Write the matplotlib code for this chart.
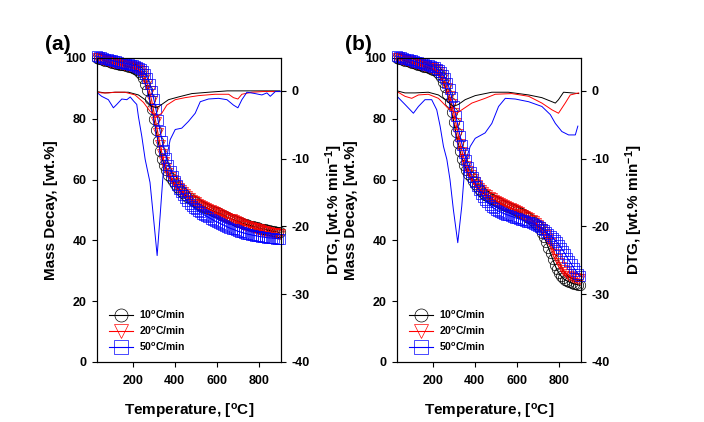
import numpy as np
import matplotlib.pyplot as plt

plt.rcParams["font.family"] = ["Liberation Sans", "DejaVu Sans"]
plt.rcParams["font.weight"] = "bold"
plt.rcParams["axes.labelweight"] = "bold"
plt.rcParams["axes.unicode_minus"] = False
plt.rcParams["mathtext.fontset"] = "custom"
plt.rcParams["mathtext.rm"] = "Liberation Sans:bold"
plt.rcParams["mathtext.it"] = "Liberation Sans:bold"
plt.rcParams["mathtext.bf"] = "Liberation Sans:bold"
plt.rcParams["mathtext.default"] = "rm"

# mass decay, read every 10 C (30 ... 900), one row = 100 C
temp = np.arange(30, 901, 10)

mass_a_10 = [100, 99.8, 99.6, 99.3, 99.1, 98.9, 98.7, 98.5, 98.3, 98.1,
             98.0, 97.8, 97.7, 97.6, 97.4, 97.2, 97.0, 96.8, 96.5, 96.1,
             95.5, 94.6, 93.3, 91.6, 89.5, 86.6, 83.3, 80, 76.3, 72.8,
             69.5, 66.9, 64.8, 63, 61.6, 60.4, 59.4, 58.4, 57.6, 56.8,
             56.1, 55.5, 54.9, 54.4, 53.9, 53.4, 52.9, 52.5, 52.1, 51.8,
             51.4, 51.1, 50.8, 50.4, 50.1, 49.8, 49.5, 49.2, 48.9, 48.5,
             48.2, 47.9, 47.6, 47.3, 47, 46.8, 46.5, 46.2, 46, 45.7,
             45.5, 45.3, 45.1, 44.9, 44.7, 44.5, 44.3, 44.1, 43.9, 43.8,
             43.6, 43.4, 43.3, 43.1, 43, 42.9, 42.7, 42.6]
mass_a_20 = [100, 99.9, 99.7, 99.4, 99.2, 99.0, 98.8, 98.6, 98.4, 98.3,
             98.2, 98.0, 97.9, 97.8, 97.6, 97.5, 97.3, 97.1, 96.9, 96.6,
             96.2, 95.6, 94.6, 93.3, 91.5, 89, 86, 82.5, 78.8, 75.2,
             71.5, 68.4, 65.9, 63.8, 62.2, 60.9, 59.8, 58.9, 58, 57.2,
             56.5, 55.8, 55.1, 54.5, 53.9, 53.4, 52.9, 52.5, 52, 51.6,
             51.2, 50.9, 50.6, 50.2, 49.9, 49.6, 49.2, 48.9, 48.6, 48.4,
             48.1, 47.8, 47.5, 47.2, 46.9, 46.6, 46.3, 46, 45.7, 45.4,
             45.1, 44.9, 44.6, 44.4, 44.2, 44, 43.8, 43.6, 43.4, 43.2,
             43, 42.8, 42.7, 42.5, 42.4, 42.3, 42.1, 42]
mass_a_50 = [100.5, 100.4, 100.2, 100, 99.8, 99.6, 99.4, 99.2, 99.0, 98.9,
             98.7, 98.5, 98.4, 98.3, 98.1, 98, 97.8, 97.6, 97.4, 97.2,
             96.8, 96.3, 95.6, 94.7, 93.3, 91.5, 89.3, 86.5, 83.2, 79.7,
             76, 72.6, 69.6, 67, 64.8, 62.9, 61.2, 59.7, 58.3, 57,
             55.9, 54.8, 53.8, 52.9, 52.1, 51.4, 50.8, 50.2, 49.7, 49.2,
             48.8, 48.4, 48, 47.6, 47.2, 46.8, 46.4, 46.1, 45.8, 45.4,
             45.1, 44.8, 44.4, 44.1, 43.8, 43.6, 43.3, 43, 42.8, 42.6,
             42.4, 42.2, 42, 41.9, 41.7, 41.6, 41.5, 41.3, 41.2, 41.1,
             41, 40.9, 40.8, 40.8, 40.7, 40.6, 40.6, 40.5]

mass_b_10 = [100, 99.8, 99.6, 99.3, 99.1, 98.9, 98.6, 98.4, 98.2, 98,
             97.8, 97.6, 97.4, 97.2, 97, 96.8, 96.5, 96.2, 95.9, 95.3,
             94.6, 93.6, 92.1, 90.3, 88.2, 85.5, 82.3, 79, 75.5, 72.2,
             69.3, 66.9, 64.9, 63.2, 61.8, 60.7, 59.6, 58.7, 57.8, 57,
             56.3, 55.6, 55, 54.5, 54, 53.6, 53.2, 52.8, 52.5, 52.2,
             51.8, 51.5, 51.2, 50.9, 50.6, 50.3, 49.9, 49.6, 49.3, 48.9,
             48.6, 48.2, 47.8, 47.3, 46.8, 46.2, 45.5, 44.7, 43.7, 42.4,
             41, 39.4, 37.6, 35.7, 33.9, 32, 30.5, 29.2, 28.3, 27.5,
             27, 26.6, 26.3, 26, 25.8, 25.6, 25.4, 25.2]
mass_b_20 = [100, 99.9, 99.7, 99.5, 99.3, 99.1, 98.9, 98.7, 98.5, 98.3,
             98.1, 97.9, 97.7, 97.5, 97.3, 97.1, 96.8, 96.6, 96.3, 95.9,
             95.3, 94.5, 93.4, 91.9, 90, 87.6, 84.8, 81.8, 78.5, 75.1,
             71.8, 69, 66.7, 64.6, 62.9, 61.5, 60.3, 59.2, 58.2, 57.4,
             56.6, 56, 55.3, 54.8, 54.3, 53.8, 53.4, 53, 52.6, 52.3,
             51.9, 51.6, 51.3, 50.9, 50.6, 50.3, 49.9, 49.6, 49.2, 48.8,
             48.5, 48.1, 47.7, 47.3, 46.8, 46.3, 45.8, 45.2, 44.5, 43.8,
             42.9, 41.9, 40.6, 39.1, 37.4, 35.6, 34, 32.6, 31.3, 30.3,
             29.6, 28.9, 28.4, 28, 27.7, 27.5, 27.3, 27.2]
mass_b_50 = [100.5, 100.4, 100.2, 100, 99.8, 99.6, 99.4, 99.2, 99, 98.8,
             98.6, 98.4, 98.2, 98, 97.8, 97.6, 97.4, 97.2, 96.9, 96.5,
             96, 95.4, 94.5, 93.4, 91.8, 89.7, 87.2, 84.2, 81, 77.6,
             74.3, 71.4, 68.8, 66.3, 64.3, 62.4, 60.8, 59.3, 57.9, 56.6,
             55.4, 54.3, 53.3, 52.5, 51.8, 51.1, 50.6, 50.1, 49.7, 49.4,
             49.1, 48.8, 48.5, 48.3, 48, 47.8, 47.5, 47.3, 47.1, 46.8,
             46.6, 46.4, 46.2, 45.9, 45.7, 45.4, 45, 44.7, 44.3, 43.8,
             43.3, 42.7, 42.1, 41.5, 40.9, 40.2, 39.4, 38.6, 37.6, 36.6,
             35.5, 34.3, 33.2, 32.1, 31, 30, 29.1, 28.2]

# DTG curves
dtg_a_10_t = [25, 68, 116, 179, 227, 259, 290, 314, 338, 370, 417, 481, 560, 650, 750, 900]
dtg_a_10 = [-0.1, -0.3, -0.2, -0.2, -0.6, -1.3, -2.3, -2.5, -2.0, -1.3, -0.9, -0.4, -0.2, 0, 0, 0]

dtg_a_20_t = [25, 52, 84, 116, 163, 211, 251, 282, 314, 338, 362, 402, 449, 513, 592, 656, 679,
              700, 719, 767, 820, 900]
dtg_a_20 = [-0.1, -0.3, -0.3, -0.2, -0.2, -0.6, -1.7, -3.0, -3.8, -3.3, -2.1, -1.3, -1.0, -0.7,
            -0.5, -0.5, -1.0, -1.2, -0.5, -0.2, -0.1, -0.1]

dtg_a_50_t = [25, 52, 84, 108, 124, 148, 172, 188, 204, 219, 227, 243, 259, 282, 298, 316, 330,
              346, 362, 378, 402, 433, 465, 497, 521, 560, 608, 648, 679, 700, 719, 743, 782, 814,
              838, 854, 878, 902]
dtg_a_50 = [-0.1, -0.8, -1.3, -2.5, -2.0, -1.2, -1.3, -0.9, -1.5, -2.0, -3.8, -6.7, -10.1, -13.5,
            -18.5, -24.3, -18.5, -11.6, -9.7, -7.2, -5.7, -5.5, -4.5, -3.3, -1.6, -1.2, -1.1, -1.3,
            -2.1, -2.5, -1.3, -0.2, -0.4, -0.6, -0.3, -0.8, -0.1, -0.1]

dtg_b_10_t = [30, 68, 116, 179, 227, 259, 298, 322, 354, 402, 481, 560, 656, 719, 783, 798, 822,
              862, 894]
dtg_b_10 = [0, -0.3, -0.3, -0.2, -0.6, -1.3, -2.3, -2.0, -1.3, -0.7, -0.2, -0.2, -0.6, -1.0, -1.8,
            -1.3, -0.2, -0.3, -0.4]

dtg_b_20_t = [30, 68, 100, 132, 179, 227, 274, 314, 338, 386, 449, 497, 576, 656, 719, 767, 798,
              830, 854, 894]
dtg_b_20 = [-0.1, -0.8, -1.1, -0.6, -0.5, -1.1, -2.6, -3.3, -2.8, -1.8, -1.1, -0.5, -0.4, -0.8,
            -1.8, -2.8, -3.3, -1.8, -0.6, -0.3]

dtg_b_50_t = [30, 68, 108, 132, 163, 195, 219, 235, 251, 267, 282, 298, 319, 338, 354, 378, 402,
              449, 481, 513, 545, 592, 656, 719, 759, 783, 814, 846, 878, 890]
dtg_b_50 = [-0.8, -2.0, -3.3, -2.3, -1.3, -1.3, -2.8, -5.2, -8.2, -10.1, -13.1, -17.5, -22.4, -17.0,
            -10.6, -8.2, -7.0, -6.2, -4.8, -2.3, -1.1, -1.2, -1.6, -2.3, -3.5, -4.8, -6.0, -6.5,
            -6.5, -5.2]

rate_labels = ["10$^{o}$C/min", "20$^{o}$C/min", "50$^{o}$C/min"]
colors = ["black", "red", "blue"]
markers = ["o", "v", "s"]

panels = [
    ("(a)", [mass_a_10, mass_a_20, mass_a_50],
     [(dtg_a_10_t, dtg_a_10), (dtg_a_20_t, dtg_a_20), (dtg_a_50_t, dtg_a_50)]),
    ("(b)", [mass_b_10, mass_b_20, mass_b_50],
     [(dtg_b_10_t, dtg_b_10), (dtg_b_20_t, dtg_b_20), (dtg_b_50_t, dtg_b_50)]),
]
lefts = [97 / 704, 397 / 704]

fig = plt.figure(figsize=(7.04, 4.22), dpi=100)

for (tag, masses, dtgs), left in zip(panels, lefts):
    ax = fig.add_axes([left, 60 / 422, 184 / 704, 304 / 422])
    ax2 = ax.twinx()

    for m, c, mk, lab in zip(masses, colors, markers, rate_labels):
        ax.plot(temp, m, color=c, lw=0.8, marker=mk, ms=7.5, mfc="none", mec=c, mew=0.5,
                label=lab, clip_on=False, zorder=3)
    for (t, d), c in zip(dtgs, colors):
        ax2.plot(t, d, color=c, lw=0.7)

    ax.set_xlim(30, 905)
    ax.set_ylim(0, 100)
    ax2.set_ylim(-40, 4.85)
    ax.set_xticks([200, 400, 600, 800])
    ax.set_yticks([0, 20, 40, 60, 80, 100])
    ax2.set_yticks([0, -10, -20, -30, -40])

    for a in (ax, ax2):
        a.tick_params(direction="out", length=3.5, width=0.8, labelsize=9, pad=4)
        for s in a.spines.values():
            s.set_linewidth(0.8)
    ax.tick_params(axis="x", pad=6)

    ax.set_xlabel("Temperature, [$^{o}$C]", fontsize=11)
    ax.set_ylabel("Mass Decay, [wt.%]", fontsize=11)
    ax2.set_ylabel("DTG, [wt.% min$^{-1}$]", fontsize=11, rotation=90)
    ax.xaxis.set_label_coords(0.5, -0.13)
    ax.yaxis.set_label_coords(-0.21, 0.5)
    ax2.yaxis.set_label_coords(1.228, 0.5)

    leg = ax.legend(loc="lower left", bbox_to_anchor=(0.012, 0.0), frameon=False, fontsize=7.5,
                    handlelength=2.3, markerscale=1.25, labelspacing=0.35, handletextpad=0.6)

    fig.text(left - 52 / 704, 1 - 45 / 422, tag, fontsize=15, fontweight="bold",
             ha="left", va="center")

fig.savefig("out.png", dpi=100)
